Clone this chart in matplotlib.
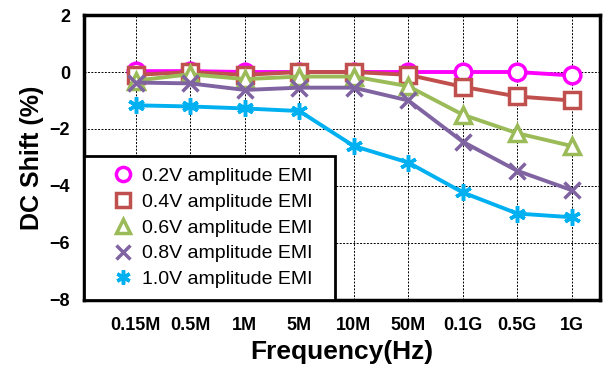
import matplotlib
matplotlib.use('Agg')
import matplotlib.pyplot as plt
import numpy as np

plt.rcParams['font.family'] = ['Liberation Sans', 'DejaVu Sans']

freqs = ['0.15M', '0.5M', '1M', '5M', '10M', '50M', '0.1G', '0.5G', '1G']
labels = ['0.2V amplitude EMI', '0.4V amplitude EMI', '0.6V amplitude EMI',
          '0.8V amplitude EMI', '1.0V amplitude EMI']

shift_02 = [0.03, 0.03, 0.0, 0.0, 0.0, 0.0, 0.0, 0.0, -0.12]
shift_04 = [-0.1, 0.0, -0.1, 0.0, 0.0, -0.1, -0.52, -0.86, -1.0]
shift_06 = [-0.3, -0.08, -0.25, -0.16, -0.16, -0.5, -1.5, -2.15, -2.6]
shift_08 = [-0.37, -0.4, -0.63, -0.55, -0.55, -1.0, -2.45, -3.47, -4.15]
shift_10 = [-1.17, -1.21, -1.28, -1.37, -2.6, -3.18, -4.23, -4.97, -5.1]

series = [shift_02, shift_04, shift_06, shift_08, shift_10]
colors = ['#FF00FF', '#C0504D', '#9BBB59', '#8064A2', '#00B0F0']
markers = ['o', 's', '^', 'x', (6, 2, 0)]

fig = plt.figure(figsize=(6.05, 3.67), dpi=100)
ax = fig.add_axes([0.139, 0.183, 0.853, 0.776])

x = np.arange(len(freqs))
for ys, c, m, lab in zip(series, colors, markers, labels):
    ax.plot(x, ys, color=c, lw=2.8, marker=m, ms=12, mew=2.5,
            mfc='white' if m in ('o', 's', '^') else c, mec=c, label=lab)

ax.set_xlim(-0.95, 8.52)
ax.set_ylim(-8, 2)
ax.set_yticks([-8, -6, -4, -2, 0, 2])
ax.set_xticks(x)
ax.set_xticklabels(freqs)
ax.grid(True, color='black', ls='--', lw=0.7, dashes=(2, 1.5))
ax.set_axisbelow(True)
ax.tick_params(length=0, labelsize=13)
ax.tick_params(axis='x', pad=12)
ax.tick_params(axis='y', pad=10)
for t in ax.get_xticklabels() + ax.get_yticklabels():
    t.set_fontweight('bold')
for s in ax.spines.values():
    s.set_linewidth(2.5)

ax.set_xlabel('Frequency(Hz)', fontsize=19, fontweight='bold', labelpad=5)
ax.set_ylabel('DC Shift (%)', fontsize=18, fontweight='bold', labelpad=4)

# legend box spans from the left spine to about x=335px
leg = ax.legend(loc='lower left', bbox_to_anchor=(0, 0, 251 / 516, 0.5),
                mode='expand', fontsize=14, markerscale=0.85,
                fancybox=False, framealpha=1, edgecolor='black',
                handlelength=2.8, handletextpad=-0.4, borderpad=0.6,
                labelspacing=0.42, borderaxespad=0)
leg.get_frame().set_linewidth(2)
for h in leg.legend_handles:
    h.set_linestyle('none')

fig.savefig('out.png', dpi=100)
